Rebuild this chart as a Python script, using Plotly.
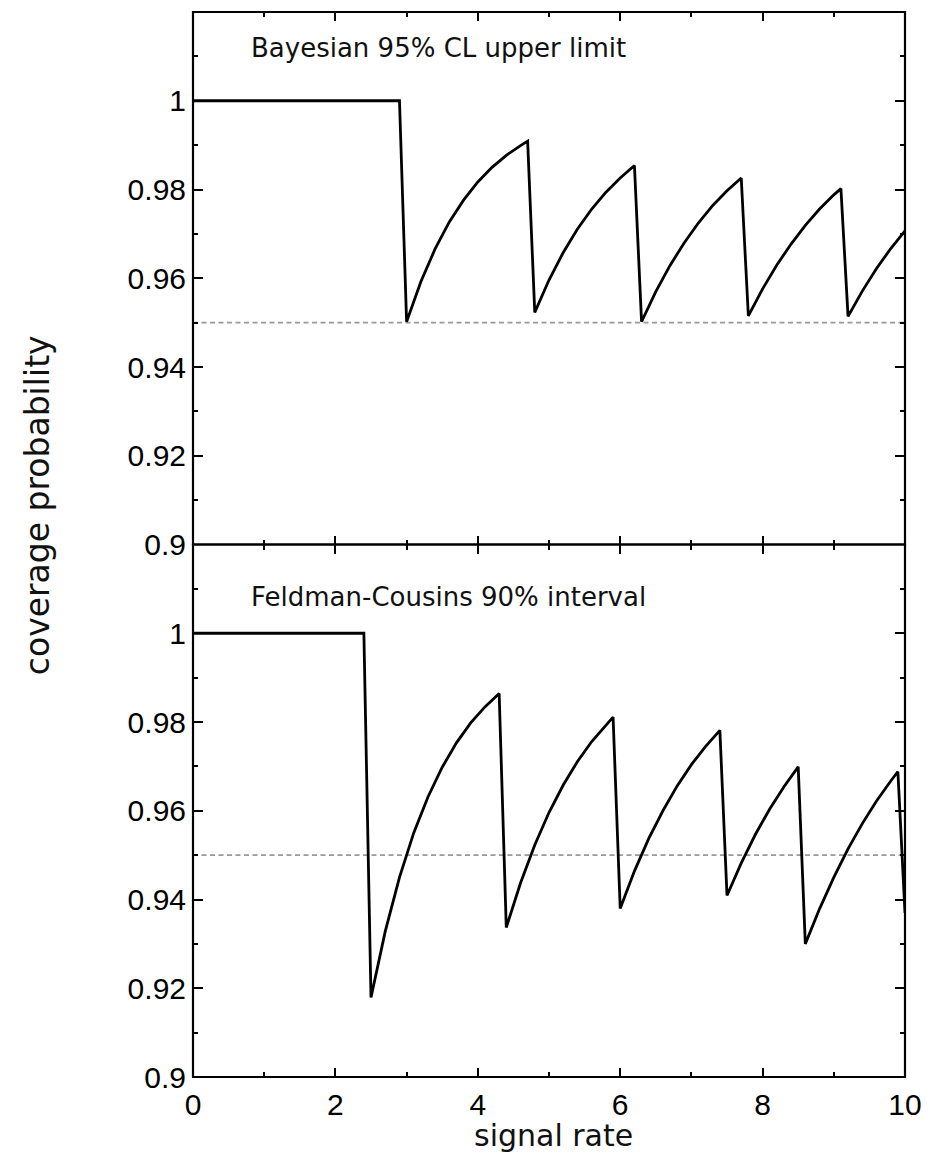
import plotly.graph_objects as go
from plotly.subplots import make_subplots

# Bayesian 95% CL upper limit coverage (top panel)
bayes_x = [0.0, 2.9,
           3.0, 3.2, 3.4, 3.6, 3.8, 4.0, 4.2, 4.4, 4.6, 4.7,
           4.8, 5.0, 5.2, 5.4, 5.6, 5.8, 6.0, 6.2,
           6.3, 6.5, 6.7, 6.9, 7.1, 7.3, 7.5, 7.7,
           7.8, 8.0, 8.2, 8.4, 8.6, 8.8, 9.0, 9.1,
           9.2, 9.4, 9.6, 9.8, 10.0]
bayes_y = [1.0, 1.0,
           0.9502, 0.9592, 0.9666, 0.9727, 0.9776, 0.9817, 0.9850, 0.9877, 0.9899, 0.9909,
           0.9523, 0.9596, 0.9658, 0.9711, 0.9756, 0.9794, 0.9826, 0.9854,
           0.9502, 0.9570, 0.9629, 0.9680, 0.9725, 0.9764, 0.9797, 0.9826,
           0.9515, 0.9576, 0.9630, 0.9677, 0.9719, 0.9756, 0.9788, 0.9802,
           0.9514, 0.9571, 0.9622, 0.9667, 0.9707]

# Feldman-Cousins 90% interval coverage (bottom panel)
fc_x = [0.0, 2.4,
        2.5, 2.7, 2.9, 3.1, 3.3, 3.5, 3.7, 3.9, 4.1, 4.3,
        4.4, 4.6, 4.8, 5.0, 5.2, 5.4, 5.6, 5.8, 5.9,
        6.0, 6.2, 6.4, 6.6, 6.8, 7.0, 7.2, 7.4,
        7.5, 7.7, 7.9, 8.1, 8.3, 8.5,
        8.6, 8.8, 9.0, 9.2, 9.4, 9.6, 9.8, 9.9,
        10.0]
fc_y = [1.0, 1.0,
        0.9179, 0.9328, 0.9450, 0.9550, 0.9631, 0.9698, 0.9753, 0.9798, 0.9834, 0.9864,
        0.9337, 0.9437, 0.9523, 0.9596, 0.9658, 0.9711, 0.9756, 0.9794, 0.9811,
        0.9380, 0.9464, 0.9537, 0.9600, 0.9656, 0.9704, 0.9745, 0.9781,
        0.9409, 0.9482, 0.9547, 0.9604, 0.9654, 0.9699,
        0.9300, 0.9379, 0.9450, 0.9514, 0.9571, 0.9622, 0.9667, 0.9688,
        0.9370]

nominal = 0.95
x_range = [0, 10]
y_range = [0.9, 1.02]
y_ticks = [0.9, 0.92, 0.94, 0.96, 0.98, 1.0]
y_ticktext = ["0.9", "0.92", "0.94", "0.96", "0.98", "1"]
y_minor = [0.91, 0.93, 0.95, 0.97, 0.99, 1.01]
x_ticks = [0, 2, 4, 6, 8, 10]
x_ticktext = ["0", "2", "4", "6", "8", "10"]
x_minor = [1, 3, 5, 7, 9]

panel_titles = ["Bayesian 95% CL upper limit", "Feldman-Cousins 90% interval"]

fig = make_subplots(rows=2, cols=1, shared_xaxes=False, vertical_spacing=0)

for row, (xs, ys) in enumerate([(bayes_x, bayes_y), (fc_x, fc_y)], start=1):
    fig.add_trace(go.Scatter(x=[x_range[0], x_range[1]], y=[nominal, nominal], mode="lines",
                             line=dict(color="#999999", width=1.8, dash="5px,3.5px"),
                             showlegend=False, hoverinfo="skip"), row=row, col=1)
    fig.add_trace(go.Scatter(x=xs, y=ys, mode="lines",
                             line=dict(color="black", width=2.8),
                             showlegend=False), row=row, col=1)

tickfont = dict(family="Liberation Sans, Arial, sans-serif", size=30, color="black")

for row in (1, 2):
    fig.update_xaxes(range=x_range, showline=False,
                     mirror="ticks", ticks="inside", ticklen=9, tickwidth=2, tickcolor="black",
                     tickvals=x_ticks, ticktext=x_ticktext,
                     minor=dict(tickvals=x_minor, ticks="inside", ticklen=5, tickwidth=2, tickcolor="black"),
                     showgrid=False, zeroline=False, tickfont=tickfont,
                     ticklabelstandoff=7,
                     showticklabels=(row == 2), row=row, col=1)
    fig.update_yaxes(range=y_range, showline=False,
                     mirror="ticks", ticks="inside", ticklen=10, tickwidth=2, tickcolor="black",
                     tickvals=y_ticks, ticktext=y_ticktext,
                     minor=dict(tickvals=y_minor, ticks="inside", ticklen=5, tickwidth=2, tickcolor="black"),
                     showgrid=False, zeroline=False, tickfont=tickfont,
                     ticklabelstandoff=6, row=row, col=1)

# panel frames
for xa, ya in (("x", "y"), ("x2", "y2")):
    fig.add_shape(type="rect", xref=f"{xa} domain", yref=f"{ya} domain",
                  x0=0, x1=1, y0=0, y1=1, line=dict(color="black", width=2.2),
                  fillcolor="rgba(0,0,0,0)", layer="above")

textfont = dict(family="DejaVu Sans, sans-serif", size=26, color="#111111")
fig.add_annotation(text=panel_titles[0], xref="paper", yref="paper", x=0.079, y=0.9662,
                   xanchor="left", yanchor="middle", showarrow=False, font=textfont)
fig.add_annotation(text=panel_titles[1], xref="paper", yref="paper", x=0.079, y=0.4507,
                   xanchor="left", yanchor="middle", showarrow=False, font=textfont)

fig.add_annotation(text="coverage probability", xref="paper", yref="paper", x=-0.219, y=0.537,
                   xanchor="center", yanchor="middle", textangle=-90, showarrow=False,
                   font=dict(family="DejaVu Sans, sans-serif", size=33, color="#111111"))
fig.add_annotation(text="signal rate", xref="paper", yref="paper", x=0.507, y=-0.0545,
                   xanchor="center", yanchor="middle", showarrow=False,
                   font=dict(family="DejaVu Sans, sans-serif", size=30, color="#111111"))

fig.update_layout(width=922, height=1147, margin=dict(l=185, r=25, t=4, b=78),
                  plot_bgcolor="white", paper_bgcolor="white", showlegend=False)

fig.write_html("out.html")
